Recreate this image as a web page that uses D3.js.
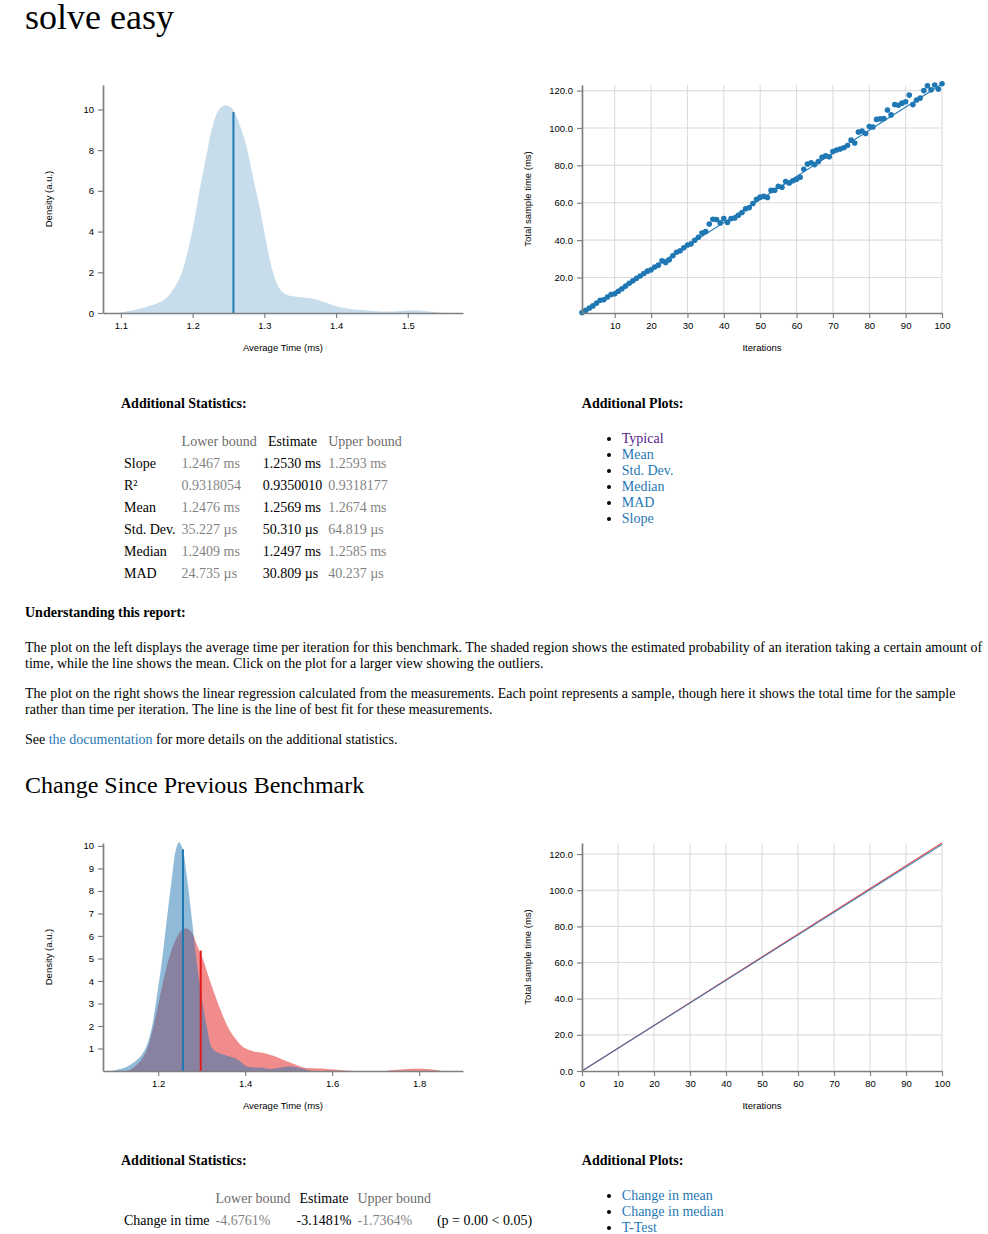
<!DOCTYPE html>
<html>
<head>
<meta charset="utf-8">
<title>solve easy - Criterion.rs</title>
<script src="https://cdn.jsdelivr.net/npm/d3@7"></script>
<style>
  body {
    font: 14px "Liberation Serif", "Times New Roman", serif;
    margin: 0;
  }
  .body {
    width: 960px;
    margin: 0 0 0 25px;
  }
  th { font-weight: 200; }
  th, td { padding-right: 3px; padding-bottom: 3px; }
  a { color: #1F78B4; text-decoration: none; }
  a.visited { color: #551A8B; }
  th.ci-bound { opacity: 0.6; }
  td.ci-bound { opacity: 0.5; }
  .stats { width: 80%; margin: auto; display: flex; }
  .additional_stats { flex: 0 0 60%; }
  .additional_plots { flex: 1; }
  h2 { font-size: 36px; font-weight: 300; line-height: 30px; margin: 0 0 35.3px; position: relative; top: 2px; }
  h3 { font-size: 24px; font-weight: 300; }
</style>
</head>
<body>
<div class="body">
  <h2>solve easy</h2>
  <section class="plots">
    <table width="100%"><tbody><tr>
      <td><svg id="pdf-small" width="450" height="300"></svg></td>
      <td><svg id="regression-small" width="450" height="300"></svg></td>
    </tr></tbody></table>
  </section>
  <section class="stats">
    <div class="additional_stats" id="stats-top"><h4>Additional Statistics:</h4></div>
    <div class="additional_plots" id="plots-top"><h4>Additional Plots:</h4></div>
  </section>
  <section class="explanation">
    <h4>Understanding this report:</h4>
    <p>The plot on the left displays the average time per iteration for this benchmark. The shaded region shows the estimated
      probability of an iteration taking a certain amount of time, while the line shows the mean. Click on the plot for a
      larger view showing the outliers.</p>
    <p>The plot on the right shows the linear regression calculated from the measurements. Each point represents a sample,
      though here it shows the total time for the sample rather than time per iteration. The line is the line of best fit
      for these measurements.</p>
    <p>See <a href="#">the documentation</a> for more details on the additional statistics.</p>
  </section>
  <section class="plots">
    <h3>Change Since Previous Benchmark</h3>
    <table width="100%"><tbody><tr>
      <td><svg id="both-pdf" width="450" height="300"></svg></td>
      <td><svg id="both-regression" width="450" height="300"></svg></td>
    </tr></tbody></table>
  </section>
  <section class="stats">
    <div class="additional_stats" id="stats-change"><h4>Additional Statistics:</h4></div>
    <div class="additional_plots" id="plots-change"><h4>Additional Plots:</h4></div>
  </section>
</div>

<script>
//begin: data
// density of the new sample (top-left plot)
var pdfTime = [1.095, 1.12, 1.145, 1.16, 1.17, 1.183, 1.19, 1.2, 1.209, 1.219, 1.228, 1.237, 1.246, 1.256,
  1.266, 1.275, 1.284, 1.294, 1.303, 1.312, 1.322, 1.331, 1.35, 1.368, 1.386, 1.4, 1.419, 1.442, 1.465,
  1.489, 1.512, 1.53, 1.549];
var pdfDensity = [0, 0.16, 0.4, 0.65, 1.0, 1.8, 2.6, 4.1, 5.9, 7.7, 9.2, 10.0, 10.2, 10.0,
  9.2, 8.2, 6.7, 5.1, 3.4, 2.0, 1.15, 0.9, 0.78, 0.7, 0.5, 0.33, 0.2, 0.13, 0.07,
  0.1, 0.13, 0.07, 0];
var meanTime = 1.2569, meanDensity = 9.87;

// regression sample (top-right plot)
var iterations = [1, 2, 3, 4, 5, 6, 7, 8, 9, 10, 11, 12, 13, 14, 15, 16, 17, 18, 19, 20,
  21, 22, 23, 24, 25, 26, 27, 28, 29, 30, 31, 32, 33, 34, 35, 36, 37, 38, 39, 40,
  41, 42, 43, 44, 45, 46, 47, 48, 49, 50, 51, 52, 53, 54, 55, 56, 57, 58, 59, 60,
  61, 62, 63, 64, 65, 66, 67, 68, 69, 70, 71, 72, 73, 74, 75, 76, 77, 78, 79, 80,
  81, 82, 83, 84, 85, 86, 87, 88, 89, 90, 91, 92, 93, 94, 95, 96, 97, 98, 99, 100];
var totalTimes = [1.3, 2.4, 3.6, 4.8, 6.3, 7.8, 8.1, 9.6, 10.9, 11.3,
  12.6, 14.0, 15.4, 16.9, 18.2, 19.6, 20.8, 22.1, 23.4, 24.1,
  25.6, 26.6, 28.9, 28.0, 29.5, 31.6, 33.5, 34.3, 35.9, 37.4,
  38.0, 39.9, 41.5, 43.8, 44.6, 48.6, 51.2, 51.0, 49.2, 51.6,
  49.4, 51.5, 51.8, 53.3, 54.8, 56.8, 57.4, 59.6, 61.8, 63.0,
  63.4, 62.8, 66.6, 66.7, 68.8, 68.3, 71.3, 70.6, 71.8, 72.6,
  73.6, 77.9, 80.7, 81.4, 80.4, 82.0, 84.3, 85.1, 84.6, 87.4,
  88.2, 88.7, 89.4, 90.6, 93.5, 92.0, 97.8, 98.4, 97.0, 100.8,
  100.5, 104.6, 104.9, 105.1, 109.6, 107.0, 112.6, 112.2, 113.3, 114.0,
  117.6, 112.5, 115.0, 116.0, 120.0, 122.6, 120.4, 123.0, 120.8, 123.7];
var fitIterations = [1, 100];
var fitTimes = [1.25, 123.5];

// change plots (bottom)
var newPdfTime = [1.088, 1.127, 1.158, 1.173, 1.185, 1.196, 1.208, 1.219, 1.231, 1.242, 1.248, 1.256,
  1.265, 1.277, 1.288, 1.3, 1.312, 1.323, 1.335, 1.358, 1.381, 1.404, 1.435, 1.458, 1.481, 1.504, 1.527, 1.55];
var newPdfDensity = [0, 0.18, 0.62, 1.1, 1.9, 3.2, 4.8, 6.6, 8.5, 9.94, 10.16, 9.87,
  8.76, 6.83, 4.9, 3.27, 1.94, 1.05, 0.83, 0.68, 0.53, 0.2, 0.15, 0.09, 0.16, 0.2, 0.13, 0];
var oldPdfTime = [1.12, 1.135, 1.158, 1.173, 1.188, 1.204, 1.219, 1.235, 1.25, 1.263, 1.277, 1.288,
  1.304, 1.319, 1.335, 1.35, 1.365, 1.381, 1.396, 1.419, 1.442, 1.465, 1.488, 1.512, 1.535, 1.558,
  1.588, 1.612, 1.627, 1.65, 1.719, 1.742, 1.773, 1.804, 1.842, 1.85];
var oldPdfDensity = [0, 0.05, 0.42, 0.9, 1.9, 3.3, 4.6, 5.6, 6.16, 6.34, 6.16, 5.64,
  4.9, 4.01, 3.13, 2.39, 1.79, 1.35, 1.05, 0.87, 0.8, 0.68, 0.49, 0.31, 0.16, 0.12,
  0.09, 0.06, 0.03, 0, 0, 0.05, 0.09, 0.1, 0.04, 0];
var newMeanTime = 1.2569, newMeanDensity = 9.85;
var oldMeanTime = 1.2978, oldMeanDensity = 5.35;
var changeIterations = [0, 100];
var newFitTimes = [0, 125.3];
var oldFitTimes = [0, 126.1];

// tick labels
var pdfTimeTicks = [1.1, 1.2, 1.3, 1.4, 1.5];
var pdfDensityTicks = [0, 2, 4, 6, 8, 10];
var regIterTicks = [10, 20, 30, 40, 50, 60, 70, 80, 90, 100];
var regTimeTicks = [20, 40, 60, 80, 100, 120];
var changePdfTimeTicks = [1.2, 1.4, 1.6, 1.8];
var changePdfDensityTicks = [1, 2, 3, 4, 5, 6, 7, 8, 9, 10];
var changeIterTicks = [0, 10, 20, 30, 40, 50, 60, 70, 80, 90, 100];
var changeTimeTicks = [0, 20, 40, 60, 80, 100, 120];

// tables
var statNames = ["Slope", "R\u00b2", "Mean", "Std. Dev.", "Median", "MAD"];
var statLower = ["1.2467 ms", "0.9318054", "1.2476 ms", "35.227 \u00b5s", "1.2409 ms", "24.735 \u00b5s"];
var statEstimate = ["1.2530 ms", "0.9350010", "1.2569 ms", "50.310 \u00b5s", "1.2497 ms", "30.809 \u00b5s"];
var statUpper = ["1.2593 ms", "0.9318177", "1.2674 ms", "64.819 \u00b5s", "1.2585 ms", "40.237 \u00b5s"];
var plotLinks = ["Typical", "Mean", "Std. Dev.", "Median", "MAD", "Slope"];
var changeNames = ["Change in time"];
var changeLower = ["-4.6761%"];
var changeEstimate = ["-3.1481%"];
var changeUpper = ["-1.7364%"];
var changeP = ["(p = 0.00 < 0.05)"];
var changeLinks = ["Change in mean", "Change in median", "T-Test"];
//end: data

//begin: drawing conf.
var BLUE = "#1f78b4", RED = "#e31a1c";
var SANS = "'Liberation Sans', Arial, sans-serif";
var plot = {left: 75, right: 435, top: 17, bottom: 245};
//end: drawing conf.

function styleAxis(g) {
  g.attr("font-family", SANS).attr("font-size", 9.5);
  g.select(".domain").attr("stroke", "#808080").attr("stroke-width", 1.7);
  g.selectAll(".tick line").attr("stroke", "#808080").attr("stroke-width", 1.2);
  g.selectAll(".tick text").attr("fill", "#000");
}

function drawFrame(svg, x, y, conf) {
  if (conf.grid) {
    var grid = svg.append("g").classed("grid", true)
        .attr("stroke", "#dcdcdc").attr("stroke-width", 1.1);
    grid.selectAll(".v").data(conf.xTicks.filter(function(d){ return x(d) > plot.left + 1; }))
      .enter().append("line")
        .attr("x1", function(d){ return x(d); }).attr("x2", function(d){ return x(d); })
        .attr("y1", plot.top).attr("y2", plot.bottom);
    grid.selectAll(".h").data(conf.yTicks.filter(function(d){ return y(d) < plot.bottom - 1; }))
      .enter().append("line")
        .attr("x1", plot.left).attr("x2", plot.right)
        .attr("y1", function(d){ return y(d); }).attr("y2", function(d){ return y(d); });
  }
}

function drawAxes(svg, x, y, conf) {
  svg.append("g")
      .attr("transform", "translate(0," + plot.bottom + ")")
      .call(d3.axisBottom(x).tickValues(conf.xTicks).tickFormat(conf.xFormat)
        .tickSize(5).tickPadding(4).tickSizeOuter(0))
      .call(styleAxis);
  svg.append("g")
      .attr("transform", "translate(" + plot.left + ",0)")
      .call(d3.axisLeft(y).tickValues(conf.yTicks).tickFormat(conf.yFormat)
        .tickSize(5).tickPadding(4).tickSizeOuter(0))
      .call(styleAxis);

  svg.append("text")
      .attr("x", (plot.left + plot.right) / 2).attr("y", 283)
      .attr("text-anchor", "middle").attr("font-family", SANS).attr("font-size", 9.5)
      .text(conf.xLabel);
  svg.append("text")
      .attr("transform", "translate(" + [23.5, (plot.top + plot.bottom) / 2] + ") rotate(-90)")
      .attr("text-anchor", "middle").attr("font-family", SANS).attr("font-size", 9.5)
      .text(conf.yLabel);
}

function drawPdf(svgId, conf) {
  var svg = d3.select(svgId);
  var x = d3.scaleLinear().domain(conf.xDomain).range([plot.left, plot.right]);
  var y = d3.scaleLinear().domain(conf.yDomain).range([plot.bottom, plot.top]);
  var area = d3.area()
      .x(function(d){ return x(d[0]); })
      .y0(y(0))
      .y1(function(d){ return Math.min(y(0), y(d[1])); })
      .curve(d3.curveCatmullRom.alpha(0.5));

  conf.densities.forEach(function(s) {
    svg.append("path")
        .attr("d", area(d3.zip(s.time, s.density)))
        .attr("fill", s.fill);
  });
  conf.means.forEach(function(m) {
    svg.append("line")
        .attr("x1", x(m.time)).attr("x2", x(m.time))
        .attr("y1", y(0)).attr("y2", y(m.density))
        .attr("stroke", m.color).attr("stroke-width", 2);
  });
  drawAxes(svg, x, y, conf);
}

function drawRegression(svgId, conf) {
  var svg = d3.select(svgId);
  var x = d3.scaleLinear().domain(conf.xDomain).range([plot.left, plot.right]);
  var y = d3.scaleLinear().domain(conf.yDomain).range([plot.bottom, plot.top]);
  var line = d3.line()
      .x(function(d){ return x(d[0]); })
      .y(function(d){ return y(d[1]); });

  drawFrame(svg, x, y, conf);
  conf.lines.forEach(function(l) {
    svg.append("path")
        .attr("d", line(d3.zip(l.x, l.y)))
        .attr("fill", "none").attr("stroke", l.color).attr("stroke-width", 1.1)
        .attr("stroke-opacity", l.opacity);
  });
  if (conf.points) {
    svg.append("g").selectAll("circle")
        .data(d3.zip(conf.points.x, conf.points.y))
        .enter().append("circle")
          .attr("cx", function(d){ return x(d[0]); })
          .attr("cy", function(d){ return y(d[1]); })
          .attr("r", 2.8)
          .attr("fill", BLUE);
  }
  drawAxes(svg, x, y, conf);
}

function drawStats(containerId, header, columns, classes) {
  var table = d3.select(containerId).append("table");
  table.append("thead").append("tr").selectAll("th")
      .data(header).enter().append("th")
        .attr("class", function(d, i){ return classes[i]; })
        .text(function(d){ return d; });
  var rows = table.append("tbody").selectAll("tr")
      .data(columns[0]).enter().append("tr");
  rows.selectAll("td")
      .data(function(d, r){ return columns.map(function(col){ return col[r]; }); })
      .enter().append("td")
        .attr("class", function(d, i){ return classes[i]; })
        .text(function(d){ return d; });
}

function drawLinks(containerId, names, visited) {
  d3.select(containerId).append("ul").selectAll("li")
      .data(names).enter().append("li")
      .append("a")
        .attr("href", "#")
        .classed("visited", function(d, i){ return i < visited; })
        .text(function(d){ return d; });
}

var fmt1 = d3.format(".1f");
var fmt0 = d3.format("d");

drawPdf("#pdf-small", {
  xDomain: [1.075, 1.577], yDomain: [0, 11.2],
  xTicks: pdfTimeTicks, yTicks: pdfDensityTicks, xFormat: fmt1, yFormat: fmt0,
  xLabel: "Average Time (ms)", yLabel: "Density (a.u.)",
  densities: [{time: pdfTime, density: pdfDensity, fill: "rgba(31,120,180,0.25)"}],
  means: [{time: meanTime, density: meanDensity, color: BLUE}]
});

drawRegression("#regression-small", {
  xDomain: [1, 100], yDomain: [1.0, 123.0],
  xTicks: regIterTicks, yTicks: regTimeTicks, xFormat: fmt0, yFormat: fmt1,
  xLabel: "Iterations", yLabel: "Total sample time (ms)", grid: true,
  lines: [{x: fitIterations, y: fitTimes, color: BLUE, opacity: 1}],
  points: {x: iterations, y: totalTimes}
});

drawPdf("#both-pdf", {
  xDomain: [1.073, 1.901], yDomain: [0, 10.13],
  xTicks: changePdfTimeTicks, yTicks: changePdfDensityTicks, xFormat: fmt1, yFormat: fmt0,
  xLabel: "Average Time (ms)", yLabel: "Density (a.u.)",
  densities: [
    {time: oldPdfTime, density: oldPdfDensity, fill: "rgba(227,26,28,0.5)"},
    {time: newPdfTime, density: newPdfDensity, fill: "rgba(31,120,180,0.5)"}
  ],
  means: [
    {time: oldMeanTime, density: oldMeanDensity, color: RED},
    {time: newMeanTime, density: newMeanDensity, color: BLUE}
  ]
});

drawRegression("#both-regression", {
  xDomain: [0, 100], yDomain: [0, 126.1],
  xTicks: changeIterTicks, yTicks: changeTimeTicks, xFormat: fmt0, yFormat: fmt1,
  xLabel: "Iterations", yLabel: "Total sample time (ms)", grid: true,
  lines: [
    {x: changeIterations, y: oldFitTimes, color: RED, opacity: 0.8},
    {x: changeIterations, y: newFitTimes, color: BLUE, opacity: 0.8}
  ]
});

drawStats("#stats-top", ["", "Lower bound", "Estimate", "Upper bound"],
  [statNames, statLower, statEstimate, statUpper], ["", "ci-bound", "", "ci-bound"]);
drawLinks("#plots-top", plotLinks, 1);

drawStats("#stats-change", ["", "Lower bound", "Estimate", "Upper bound"],
  [changeNames, changeLower, changeEstimate, changeUpper, changeP], ["", "ci-bound", "", "ci-bound", ""]);
drawLinks("#plots-change", changeLinks, 0);
</script>
</body>
</html>
